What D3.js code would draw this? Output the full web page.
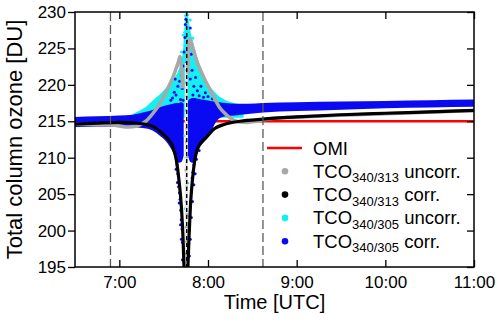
<!DOCTYPE html>
<html>
<head>
<meta charset="utf-8">
<script src="https://cdn.jsdelivr.net/npm/d3@7"></script>
<style>
  html, body { margin: 0; padding: 0; background: #fff; }
  svg { display: block; font-family: "Liberation Sans", Arial, sans-serif; }
</style>
</head>
<body>
<div id="canvas"></div>
<script>
// ---- data (time in decimal hours UTC, ozone in DU) ----
const timeTicks = [7, 8, 9, 10, 11];
const timeTickLabels = ["7:00", "8:00", "9:00", "10:00", "11:00"];
const ozoneTicks = [195, 200, 205, 210, 215, 220, 225, 230];

const omiTime = [6.5, 11];
const omiValue = [215, 215];

// TCO 340/313 corrected (black), left and right of the eclipse dip
const corr313LeftTime  = [6.5, 6.75, 7.0, 7.23, 7.38, 7.45, 7.53, 7.606, 7.644, 7.673, 7.70, 7.718, 7.729, 7.736];
const corr313LeftValue = [214.6, 214.75, 214.85, 214.7, 214.3, 213.7, 212.8, 211.4, 209.6, 206.9, 203.2, 199.1, 195.2, 193];
const corr313RightTime  = [7.768, 7.774, 7.786, 7.801, 7.824, 7.85, 7.887, 7.93, 7.981, 8.075, 8.19, 8.36, 8.62, 9.0, 9.5, 10.0, 10.5, 11.0];
const corr313RightValue = [193, 195.2, 199.1, 203.2, 206.9, 209.6, 211.4, 212.2, 212.8, 214.0, 214.6, 215.0, 215.3, 215.6, 215.9, 216.1, 216.3, 216.5];

// TCO 340/313 uncorrected (grey)
const uncorr313LeftTime  = [6.5, 6.85, 7.0, 7.1, 7.2, 7.26, 7.307, 7.38, 7.456, 7.51, 7.569, 7.61, 7.644, 7.667, 7.685, 7.70, 7.715];
const uncorr313LeftValue = [214.6, 214.6, 214.35, 214.2, 214.35, 214.7, 215.1, 216.1, 217.4, 218.6, 220.1, 221.2, 222.4, 223.2, 223.9, 222.3, 219.5];
const uncorr313RightTime  = [7.772, 7.782, 7.795, 7.83, 7.869, 7.92, 7.981, 8.05, 8.131, 8.19, 8.244, 8.356, 8.45, 8.55, 8.7, 9.0, 10.0, 11.0];
const uncorr313RightValue = [221.5, 224.8, 226.3, 225.0, 223.4, 221.9, 220.3, 218.7, 216.9, 216.1, 215.5, 214.9, 214.85, 215.0, 215.35, 215.55, 216.05, 216.45];

// TCO 340/305 uncorrected (cyan) upper envelope of the cloud
const uncorr305Time = [7.1, 7.2, 7.3, 7.38, 7.45, 7.52, 7.6, 7.66, 7.70, 7.72, 7.735, 7.75, 7.765, 7.78, 7.80, 7.83, 7.87, 7.93, 8.0, 8.1, 8.2, 8.3, 8.4];
const uncorr305High = [215.6, 216.3, 217.0, 217.9, 218.6, 219.5, 220.6, 221.8, 223.2, 225.0, 228.0, 230, 230, 229.0, 227.5, 226.0, 224.2, 222.0, 220.3, 218.7, 217.9, 217.5, 217.2];
const uncorr305Base = 215.5;

// TCO 340/305 corrected (blue) band, low/high edges
const corr305LeftTime = [6.5, 6.75, 7.0, 7.15, 7.23, 7.3, 7.38, 7.45, 7.53, 7.606, 7.644, 7.673, 7.70, 7.715, 7.726];
const corr305LeftHigh = [215.6, 215.7, 215.8, 215.9, 216.1, 216.3, 216.6, 216.9, 217.2, 217.4, 217.5, 217.5, 217.6, 217.5, 217.4];
const corr305LeftLow  = [214.2, 214.3, 214.3, 214.2, 214.1, 214.0, 213.7, 213.1, 212.2, 210.7, 209.6, 209.3, 209.4, 209.8, 210.3];
const corr305RightTime = [7.775, 7.786, 7.801, 7.824, 7.85, 7.887, 7.93, 7.981, 8.03, 8.075, 8.13, 8.2, 8.3, 8.45, 8.62, 9.0, 9.5, 10.0, 10.5, 11.0];
const corr305RightHigh = [217.8, 218.0, 218.1, 218.2, 218.2, 218.1, 218.0, 217.9, 217.8, 217.7, 217.6, 217.5, 217.4, 217.4, 217.5, 217.6, 217.7, 217.8, 217.9, 218.0];
const corr305RightLow  = [210.3, 209.8, 209.4, 209.3, 209.4, 210.9, 211.8, 212.5, 213.4, 214.6, 215.4, 215.7, 215.8, 216.0, 216.2, 216.4, 216.6, 216.8, 216.9, 217.0];

// scattered single points around the eclipse
const blueDots = [
  [7.58, 217.9], [7.60, 218.2], [7.62, 219.0], [7.64, 218.6], [7.66, 219.8], [7.68, 220.5],
  [7.69, 218.0], [7.70, 221.3], [7.71, 219.5], [7.72, 222.6], [7.73, 224.5], [7.74, 226.5],
  [7.745, 228.3], [7.75, 229.0], [7.78, 223.8], [7.79, 225.5], [7.80, 227.8], [7.80, 220.8],
  [7.81, 224.2], [7.82, 222.0], [7.83, 218.6], [7.84, 219.8], [7.86, 221.0], [7.88, 219.2],
  [7.90, 218.5], [7.92, 219.8], [7.95, 218.3], [7.97, 218.9], [8.0, 218.4], [8.05, 218.1],
  [7.63, 220.8], [7.76, 223.0], [7.72, 217.9], [7.77, 226.0],
  [7.60, 212.0], [7.63, 210.8], [7.64, 208.4], [7.652, 209.0], [7.655, 206.6], [7.66, 207.8],
  [7.668, 206.0], [7.675, 203.8], [7.678, 205.2], [7.685, 204.3], [7.69, 200.8], [7.692, 202.8],
  [7.698, 201.5], [7.70, 198.8], [7.706, 200.2], [7.712, 198.4], [7.712, 196.0], [7.722, 197.0],
  [7.726, 195.8], [7.77, 197.8], [7.775, 200.5], [7.778, 196.5], [7.783, 198.2], [7.79, 200.0],
  [7.79, 196.5], [7.796, 202.0], [7.80, 198.8], [7.804, 204.0], [7.812, 205.5], [7.812, 201.8],
  [7.82, 207.2], [7.825, 204.0], [7.83, 208.0], [7.84, 209.0], [7.84, 206.3], [7.855, 207.8],
  [7.87, 209.8], [7.90, 211.0]
];
const cyanDots = [
  [7.745, 229.5], [7.76, 228.2], [7.735, 227.2], [7.77, 229.6], [7.748, 196.0], [7.765, 198.5],
  [7.742, 203.0], [7.772, 206.5], [7.75, 210.0], [7.738, 213.0], [7.70, 224.5], [7.72, 226.8],
  [7.80, 228.9], [7.66, 222.6], [7.83, 226.4]
];
const greyDots = [
  [7.748, 196.8], [7.758, 198.5], [7.750, 200.5], [7.762, 202.2], [7.752, 204.0], [7.760, 206.0],
  [7.748, 208.3], [7.764, 210.1], [7.754, 212.2], [7.760, 214.0], [7.750, 216.5], [7.762, 218.4],
  [7.752, 220.3], [7.758, 222.0]
];

const markerTimes = [6.9, 8.62];   // grey dashed
const maximumTime = 7.76;          // black dashed

const legendNames  = ["OMI", "TCO", "TCO", "TCO", "TCO"];
const legendSubs   = ["", "340/313", "340/313", "340/305", "340/305"];
const legendSuffix = ["", " uncorr.", " corr.", " uncorr.", " corr."];

const colors = {
  omi: "#ff0000",
  uncorr313: "#a8a8a8",
  corr313: "#000000",
  uncorr305: "#14f0f0",
  corr305: "#0a0af2"
};
const legendColors = [colors.omi, colors.uncorr313, colors.corr313, colors.uncorr305, colors.corr305];

// ---- chart ----
const w = 500;
const h = 320;
const margin = { top: 12, right: 26, bottom: 53, left: 75 };
const width = w - margin.left - margin.right;
const height = h - margin.top - margin.bottom;

const svg = d3.select("#canvas").append("svg")
  .attr("width", w)
  .attr("height", h);

const chart = svg.append("g")
  .attr("transform", "translate(" + margin.left + "," + margin.top + ")");

const x = d3.scaleLinear().domain([6.5, 11]).range([0, width]);
const y = d3.scaleLinear().domain([195, 230]).range([height, 0]);

chart.append("clipPath").attr("id", "plotClip")
  .append("rect").attr("width", width).attr("height", height);

const plot = chart.append("g").attr("clip-path", "url(#plotClip)");

function zip(a, b) { return a.map((d, i) => [d, b[i]]); }

const line = d3.line()
  .x(d => x(d[0]))
  .y(d => y(d[1]))
  .curve(d3.curveMonotoneX);

function band(times, lows, highs) {
  return d3.area()
    .x((d, i) => x(times[i]))
    .y0((d, i) => y(lows[i]))
    .y1((d, i) => y(highs[i]))
    .curve(d3.curveMonotoneX)(times);
}

// OMI reference
plot.append("path")
  .attr("d", line(zip(omiTime, omiValue)))
  .attr("fill", "none").attr("stroke", colors.omi).attr("stroke-width", 2.5);

// cyan cloud
plot.append("path")
  .attr("d", band(uncorr305Time, uncorr305Time.map(() => uncorr305Base), uncorr305High))
  .attr("fill", colors.uncorr305);

// blue band
plot.append("path")
  .attr("d", band(corr305LeftTime, corr305LeftLow, corr305LeftHigh))
  .attr("fill", colors.corr305);
plot.append("path")
  .attr("d", band(corr305RightTime, corr305RightLow, corr305RightHigh))
  .attr("fill", colors.corr305);

function dots(data, color, r) {
  plot.append("g").selectAll("circle")
    .data(data)
    .enter().append("circle")
    .attr("cx", d => x(d[0]))
    .attr("cy", d => y(d[1]))
    .attr("r", r)
    .attr("fill", color);
}
dots(cyanDots, colors.uncorr305, 1.4);
dots(blueDots, colors.corr305, 1.5);

// light column at the eclipse maximum
plot.append("line")
  .attr("x1", x(7.755)).attr("x2", x(7.755))
  .attr("y1", y(195)).attr("y2", y(223))
  .attr("stroke", "#e4e4e4").attr("stroke-width", 3);
dots(greyDots, colors.uncorr313, 1.3);

// grey uncorrected 340/313
[zip(uncorr313LeftTime, uncorr313LeftValue), zip(uncorr313RightTime, uncorr313RightValue)].forEach(seg => {
  plot.append("path")
    .attr("d", line(seg))
    .attr("fill", "none").attr("stroke", colors.uncorr313).attr("stroke-width", 3.5);
});

// black corrected 340/313
[zip(corr313LeftTime, corr313LeftValue), zip(corr313RightTime, corr313RightValue)].forEach(seg => {
  plot.append("path")
    .attr("d", line(seg))
    .attr("fill", "none").attr("stroke", colors.corr313).attr("stroke-width", 3.2);
});

// vertical markers
plot.selectAll(".marker")
  .data(markerTimes)
  .enter().append("line")
  .classed("marker", true)
  .attr("x1", d => x(d)).attr("x2", d => x(d))
  .attr("y1", 0).attr("y2", height)
  .attr("stroke", "#5a5a5a").attr("stroke-width", 1.3)
  .attr("stroke-dasharray", "9,4");

plot.append("line")
  .attr("x1", x(maximumTime)).attr("x2", x(maximumTime))
  .attr("y1", 0).attr("y2", height)
  .attr("stroke", "#000").attr("stroke-width", 1.4)
  .attr("stroke-dasharray", "4,3");

// axes
const axisStyle = g => {
  g.select(".domain").remove();
  g.selectAll(".tick line").attr("stroke", "#000").attr("stroke-width", 1.3);
  g.selectAll("text").attr("fill", "#000").style("font-size", "17px")
    .style("font-family", "'Liberation Sans', Arial, sans-serif");
};

chart.append("g")
  .call(d3.axisLeft(y).tickValues(ozoneTicks).tickSize(7).tickPadding(2).tickFormat(d3.format("d")))
  .call(axisStyle);

chart.append("g")
  .attr("transform", "translate(0," + height + ")")
  .call(d3.axisBottom(x).tickValues(timeTicks).tickSizeInner(-7).tickSizeOuter(0).tickPadding(9)
    .tickFormat((d, i) => timeTickLabels[i]))
  .call(axisStyle);

chart.append("g")
  .call(d3.axisTop(x).tickValues(timeTicks).tickSizeInner(-7).tickSizeOuter(0).tickFormat(""))
  .call(axisStyle);

chart.append("g")
  .attr("transform", "translate(" + width + ",0)")
  .call(d3.axisRight(y).tickValues(ozoneTicks).tickSizeInner(-7).tickSizeOuter(0).tickFormat(""))
  .call(axisStyle);

chart.append("rect")
  .attr("width", width).attr("height", height)
  .attr("fill", "none").attr("stroke", "#000").attr("stroke-width", 1.5);

// axis titles
svg.append("text")
  .attr("x", margin.left + width / 2)
  .attr("y", 309)
  .attr("text-anchor", "middle")
  .style("font-size", "20px")
  .text("Time [UTC]");

svg.append("text")
  .attr("transform", "translate(22," + (margin.top + height / 2) + ") rotate(-90)")
  .attr("text-anchor", "middle")
  .style("font-size", "22px")
  .text("Total column ozone [DU]");

// legend
const legend = chart.append("g")
  .attr("transform", "translate(" + (267 - margin.left) + "," + (148 - margin.top) + ")");

legendNames.forEach((name, i) => {
  const row = legend.append("g").attr("transform", "translate(0," + (i * 23.3) + ")");
  if (i === 0) {
    row.append("line").attr("x1", 0).attr("x2", 35).attr("y1", 0).attr("y2", 0)
      .attr("stroke", legendColors[i]).attr("stroke-width", 2.5);
  } else {
    row.append("circle").attr("cx", 18).attr("cy", 0).attr("r", 3.3).attr("fill", legendColors[i]);
  }
  const t = row.append("text").attr("x", 46).attr("y", 6.5).style("font-size", "18.5px");
  t.append("tspan").text(name);
  if (legendSubs[i]) {
    t.append("tspan").attr("dy", 4.5).style("font-size", "13px").text(legendSubs[i]);
    t.append("tspan").attr("dy", -4.5).text(legendSuffix[i]);
  }
});
</script>
</body>
</html>
